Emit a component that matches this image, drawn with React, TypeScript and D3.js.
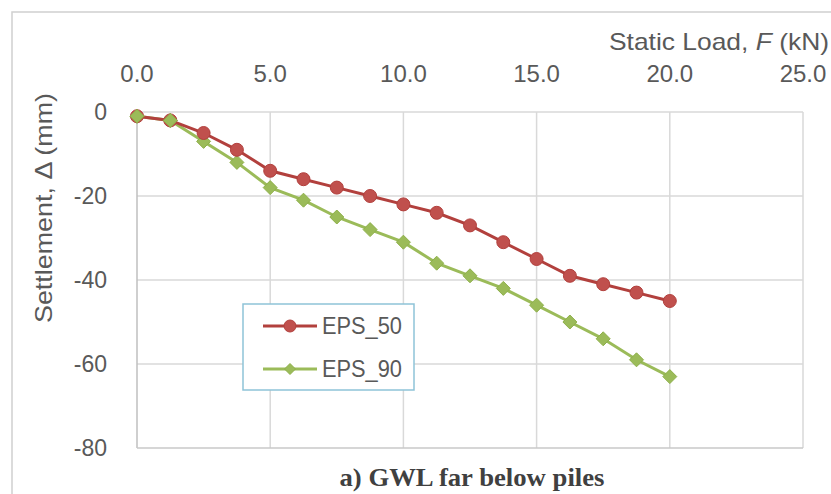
import React from "react";
import * as d3 from "d3";

const loads = [0, 1.25, 2.5, 3.75, 5, 6.25, 7.5, 8.75, 10, 11.25, 12.5, 13.75, 15, 16.25, 17.5, 18.75, 20];
const eps50 = [-1, -2, -5, -9, -14, -16, -18, -20, -22, -24, -27, -31, -35, -39, -41, -43, -45];
const eps90 = [-1, -2, -7, -12, -18, -21, -25, -28, -31, -36, -39, -42, -46, -50, -54, -59, -63];
const xTicks = [0, 5, 10, 15, 20, 25];
const yTicks = [0, -20, -40, -60, -80];

const W = 831;
const H = 494;
const sans = "Liberation Sans, Arial, sans-serif";

export default function App() {
  const x = d3.scaleLinear().domain([0, 25]).range([137, 803]);
  const y = d3.scaleLinear().domain([0, -80]).range([112, 448]);

  const line = d3
    .line<number>()
    .x((_, i) => x(loads[i]))
    .y((d) => y(d));

  const diamond = (cx: number, cy: number, r: number) =>
    `M${cx},${cy - r}L${cx + r},${cy}L${cx},${cy + r}L${cx - r},${cy}Z`;

  const red = "#c0504d";
  const redDark = "#b2403d";
  const green = "#9bbb59";
  const greenDark = "#8eb04a";

  return (
    <svg width={W} height={H} style={{ position: "absolute", left: 0, top: 0, background: "#fff" }}>
      {/* chart frame */}
      <rect x={12} y={12} width={W + 20} height={H + 20} fill="none" stroke="#d0d0d0" strokeWidth={1.5} />

      {/* gridlines */}
      {yTicks.slice(0, -1).map((t) => (
        <line key={"gy" + t} x1={x(0)} x2={x(25)} y1={y(t)} y2={y(t)} stroke="#d9d9d9" strokeWidth={1.5} />
      ))}
      {xTicks.slice(1).map((t) => (
        <line key={"gx" + t} x1={x(t)} x2={x(t)} y1={y(0)} y2={y(-80)} stroke="#d9d9d9" strokeWidth={1.5} />
      ))}
      {/* axes */}
      <line x1={x(0)} x2={x(0)} y1={y(0)} y2={y(-80)} stroke="#bfbfbf" strokeWidth={1.5} />
      <line x1={x(0)} x2={x(25)} y1={y(-80)} y2={y(-80)} stroke="#c8c8c8" strokeWidth={1.5} />

      {/* x ticks on top */}
      {xTicks.map((t) => (
        <text key={"tx" + t} x={x(t)} y={82} textAnchor="middle" fontFamily={sans} fontSize={24} fill="#595959">
          {t.toFixed(1)}
        </text>
      ))}
      <text x={829} y={50} textAnchor="end" fontFamily={sans} fontSize={24} fill="#595959" textLength={220} lengthAdjust="spacingAndGlyphs">
        Static Load, <tspan fontStyle="italic">F</tspan> (kN)
      </text>

      {/* y ticks */}
      {yTicks.map((t) => (
        <text key={"ty" + t} x={107} y={y(t) + 8} textAnchor="end" fontFamily={sans} fontSize={23} fill="#595959">
          {t}
        </text>
      ))}
      <text
        transform={`translate(52,208) rotate(-90)`}
        textAnchor="middle"
        fontFamily={sans}
        fontSize={24}
        fill="#595959"
        textLength={230}
        lengthAdjust="spacingAndGlyphs"
      >
        Settlement, Δ (mm)
      </text>

      {/* series */}
      <path d={line(eps90) ?? ""} fill="none" stroke={green} strokeWidth={3} />
      <path d={line(eps50) ?? ""} fill="none" stroke={redDark} strokeWidth={3} />
      {eps90.map((v, i) => (
        <path key={"m90" + i} d={diamond(x(loads[i]), y(v), 7)} fill={green} stroke={greenDark} strokeWidth={1} />
      ))}
      {eps50.map((v, i) => (
        <circle key={"m50" + i} cx={x(loads[i])} cy={y(v)} r={6.5} fill={red} stroke={redDark} strokeWidth={1} />
      ))}
      {/* redraw green start markers on top where they overlap */}
      {eps90.slice(0, 2).map((v, i) => (
        <path key={"m90t" + i} d={diamond(x(loads[i]), y(v), 7)} fill={green} stroke={greenDark} strokeWidth={1} />
      ))}

      {/* legend */}
      <rect x={243} y={304} width={171} height={86} fill="#fff" stroke="#8ec3d8" strokeWidth={1.5} />
      <line x1={263} x2={317} y1={326} y2={326} stroke={redDark} strokeWidth={3} />
      <circle cx={290} cy={326} r={6} fill={red} stroke={redDark} />
      <text x={322} y={334} fontFamily={sans} fontSize={23} fill="#595959" textLength={80} lengthAdjust="spacingAndGlyphs">
        EPS_50
      </text>
      <line x1={263} x2={317} y1={369} y2={369} stroke={green} strokeWidth={3} />
      <path d={diamond(290, 369, 5.5)} fill={green} stroke={greenDark} />
      <text x={322} y={377} fontFamily={sans} fontSize={23} fill="#595959" textLength={80} lengthAdjust="spacingAndGlyphs">
        EPS_90
      </text>

      {/* caption */}
      <text
        x={472}
        y={486}
        textAnchor="middle"
        fontFamily="Liberation Serif, Times New Roman, serif"
        fontWeight="bold"
        fontSize={25}
        fill="#404040"
        textLength={265}
        lengthAdjust="spacingAndGlyphs"
      >
        a) GWL far below piles
      </text>
    </svg>
  );
}
